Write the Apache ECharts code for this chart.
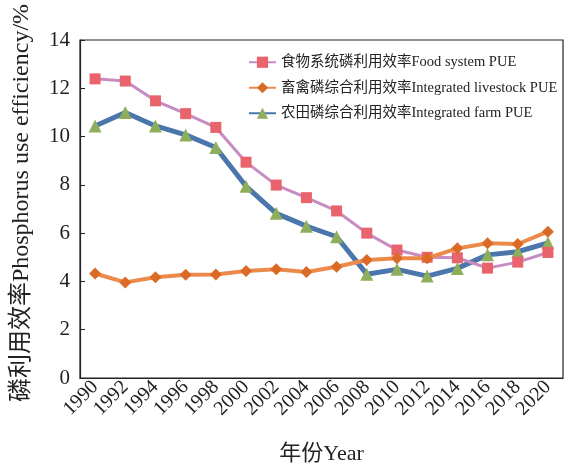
<!DOCTYPE html>
<html>
<head>
<meta charset="utf-8">
<script src="https://cdn.jsdelivr.net/npm/echarts@6/dist/echarts.min.js"></script>
<style>html,body{margin:0;padding:0;background:#fff}#c{width:569px;height:464px}</style>
</head>
<body>
<div id="c"></div>
<script>
const years = ['1990','1992','1994','1996','1998','2000','2002','2004','2006','2008','2010','2012','2014','2016','2018','2020'];
const foodPUE = [12.39, 12.30, 11.48, 10.95, 10.38, 8.94, 7.99, 7.47, 6.92, 6.00, 5.30, 5.00, 4.98, 4.55, 4.80, 5.20];
const livestockPUE = [4.33, 3.96, 4.17, 4.28, 4.29, 4.43, 4.50, 4.39, 4.61, 4.89, 4.96, 4.96, 5.37, 5.58, 5.55, 6.06];
const farmPUE = [10.44, 11.00, 10.44, 10.07, 9.55, 7.94, 6.82, 6.29, 5.85, 4.30, 4.50, 4.22, 4.54, 5.10, 5.23, 5.60];
const seriesNames = ['食物系统磷利用效率Food system PUE', '畜禽磷综合利用效率Integrated livestock PUE', '农田磷综合利用效率Integrated farm PUE'];
const yTicks = [0, 14, 2];

const FONT = '"Liberation Serif", "Noto Sans CJK SC", serif';
const chart = echarts.init(document.getElementById('c'));
chart.setOption({
  animation: false,
  textStyle: { fontFamily: FONT, color: '#222' },
  grid: { left: 80, right: 6, top: 40, bottom: 86, outerBoundsMode: 'none', containLabel: false,
          show: true, borderColor: '#222', borderWidth: 1.2, backgroundColor: 'transparent' },
  legend: {
    left: 243, top: 50, orient: 'vertical', itemWidth: 27, itemHeight: 14, itemGap: 11,
    textStyle: { fontFamily: FONT, fontSize: 14.5, color: '#222' },
    data: seriesNames
  },
  xAxis: {
    type: 'category', data: years, boundaryGap: true,
    name: '年份Year', nameLocation: 'middle', nameGap: 65,
    nameTextStyle: { fontFamily: FONT, fontSize: 22, color: '#222' },
    axisLine: { lineStyle: { color: '#222', width: 1.2 } },
    axisTick: { inside: true, alignWithLabel: true, length: 5, lineStyle: { color: '#222' } },
    axisLabel: { rotate: 45, fontFamily: FONT, fontSize: 20, color: '#222', margin: 6, interval: 0 },
    splitLine: { show: false }
  },
  yAxis: {
    type: 'value', min: yTicks[0], max: yTicks[1], interval: yTicks[2],
    name: '磷利用效率Phosphorus use efficiency/%', nameLocation: 'middle', nameGap: 46,
    nameTextStyle: { fontFamily: FONT, fontSize: 24, color: '#222', padding: [0, 0, 0, 12] },
    axisLine: { show: true, lineStyle: { color: '#222', width: 1.2 } },
    axisTick: { show: true, inside: true, length: 5, lineStyle: { color: '#222' } },
    axisLabel: { fontFamily: FONT, fontSize: 21, color: '#222', margin: 10 },
    splitLine: { show: false }
  },
  series: [
    {
      name: seriesNames[0], type: 'line', data: foodPUE,
      symbol: 'rect', symbolSize: 11, z: 3,
      lineStyle: { color: '#c68cc2', width: 3 },
      itemStyle: { color: '#e8636b' }
    },
    {
      name: seriesNames[1], type: 'line', data: livestockPUE,
      symbol: 'diamond', symbolSize: 12, z: 4,
      lineStyle: { color: '#ec8a4c', width: 4 },
      itemStyle: { color: '#da6a25' }
    },
    {
      name: seriesNames[2], type: 'line', data: farmPUE,
      symbol: 'triangle', symbolSize: 13, z: 2,
      lineStyle: { color: '#4a76ab', width: 5 },
      itemStyle: { color: '#8fae5b' }
    }
  ]
});
</script>
</body>
</html>
